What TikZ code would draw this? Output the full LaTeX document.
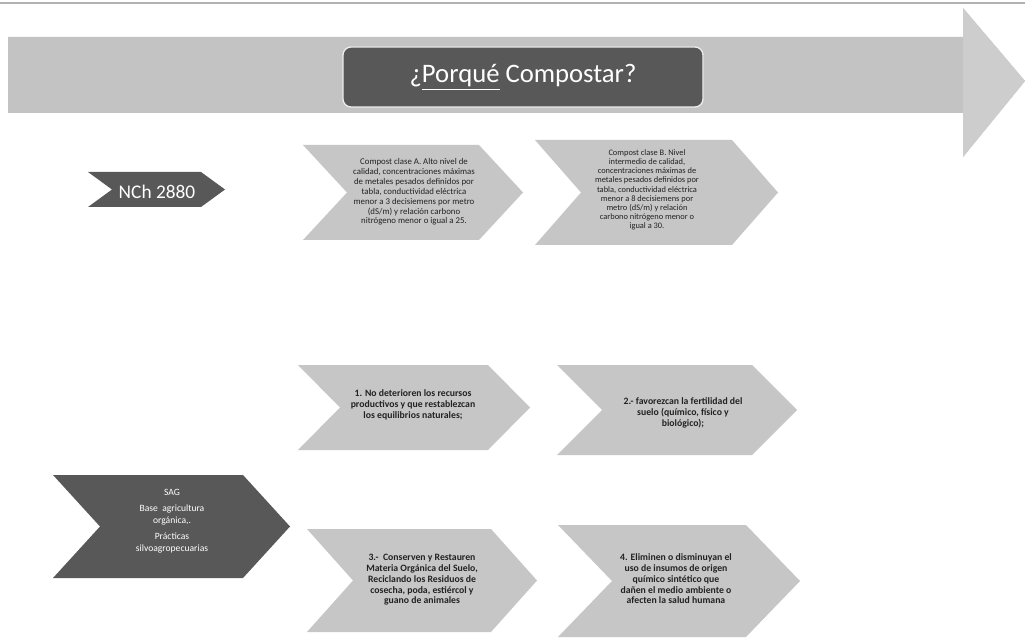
\documentclass[tikz,border=0pt]{standalone}
\usepackage{fontspec}
\setmainfont{Carlito}
\definecolor{lightchev}{HTML}{C6C6C6}
\definecolor{darkchev}{HTML}{585858}
\definecolor{bandgrey}{HTML}{C3C3C3}
\definecolor{headgrey}{HTML}{CDCDCD}
\definecolor{inktext}{HTML}{222222}
\newcommand\mychev[6]{%
  \path[#6] (#1,#2) -- ({#5-#4},#2) -- (#5,{(#2+#3)/2}) -- ({#5-#4},#3) -- (#1,#3) -- ({#1+#4},{(#2+#3)/2}) -- cycle;}
\tikzset{
  lightfill/.style={fill=lightchev},
  darkfill/.style={fill=darkchev},
  smalltext/.style={align=center, text=inktext, font=\fontsize{6.6}{7.4}\selectfont},
  boldtext/.style={align=center, text=inktext, font=\bfseries\fontsize{7.3}{8.1}\selectfont},
  whitetext/.style={align=center, text=white, font=\fontsize{7.2}{9}\selectfont},
  titlebox/.style={rounded corners=6pt, fill=darkchev, draw=white!85!gray, line width=1pt,
    minimum width=270pt, minimum height=45pt, text=white, font=\fontsize{20}{24}\selectfont}
}
\begin{document}
\begin{tikzpicture}[x=0.75pt,y=-0.75pt]
\useasboundingbox (0,0) rectangle (1025,638);
\fill[white] (0,0) rectangle (1025,638);
\draw[gray!60, line width=1pt] (0,3) -- (1025,3);
% big arrow
\fill[bandgrey] (8,37) -- (963,37) -- (963,8) -- (1025,81) -- (963,157) -- (963,113) -- (8,113) -- cycle;
\fill[headgrey] (963,37) -- (963,8) -- (1025,81) -- (963,157) -- (963,113) -- cycle;
\node[titlebox] (title) at (523,77) {¿\underline{Porqué} Compostar?};
% chevrons
\mychev{88}{172}{207}{24}{225}{darkfill}
\node[whitetext, font=\fontsize{14.5}{16}\selectfont] (nch) at (157,192) {NCh 2880};
\mychev{303}{145}{240}{44}{523}{lightfill}
\node[smalltext] (ca) at (414,192) {Compost clase A. Alto nivel de\\calidad, concentraciones máximas\\de metales pesados definidos por\\tabla, conductividad eléctrica\\menor a 3 decisiemens por metro\\(dS/m) y relación carbono\\nitrógeno menor o igual a 25.};
\mychev{535}{140}{245}{46}{778}{lightfill}
\node[smalltext, font=\fontsize{6.3}{6.9}\selectfont] (cb) at (647,190) {Compost clase B. Nivel\\intermedio de calidad,\\concentraciones máximas de\\metales pesados definidos por\\tabla, conductividad eléctrica\\menor a 8 decisiemens por\\metro (dS/m) y relación\\carbono nitrógeno menor o\\igual a 30.};
\mychev{298}{365}{450}{42}{530}{lightfill}
\node[boldtext] (c1) at (413,405) {1. No deterioren los recursos\\productivos y que restablezcan\\los equilibrios naturales;};
\mychev{557}{365}{455}{45}{797}{lightfill}
\node[boldtext] (c2) at (683,413) {2.- favorezcan la fertilidad del\\suelo (químico, físico y\\biológico);};
\mychev{53}{475}{578}{47}{290}{darkfill}
\node[whitetext] (sag) at (172,521) {SAG\\[3pt]Base\ \ agricultura\\orgánica,.\\[3pt]Prácticas\\silvoagropecuarias};
\mychev{307}{529}{632}{46}{537}{lightfill}
\node[boldtext] (c3) at (422,580) {3.-\ \ Conserven y Restauren\\Materia Orgánica del Suelo,\\Reciclando los Residuos de\\cosecha, poda, estiércol y\\guano de animales};
\mychev{558}{525}{637}{54}{800}{lightfill}
\node[boldtext] (c4) at (676,579) {4. Eliminen o disminuyan el\\uso de insumos de origen\\químico sintético que\\dañen el medio ambiente o\\afecten la salud humana};
\end{tikzpicture}
\end{document}
